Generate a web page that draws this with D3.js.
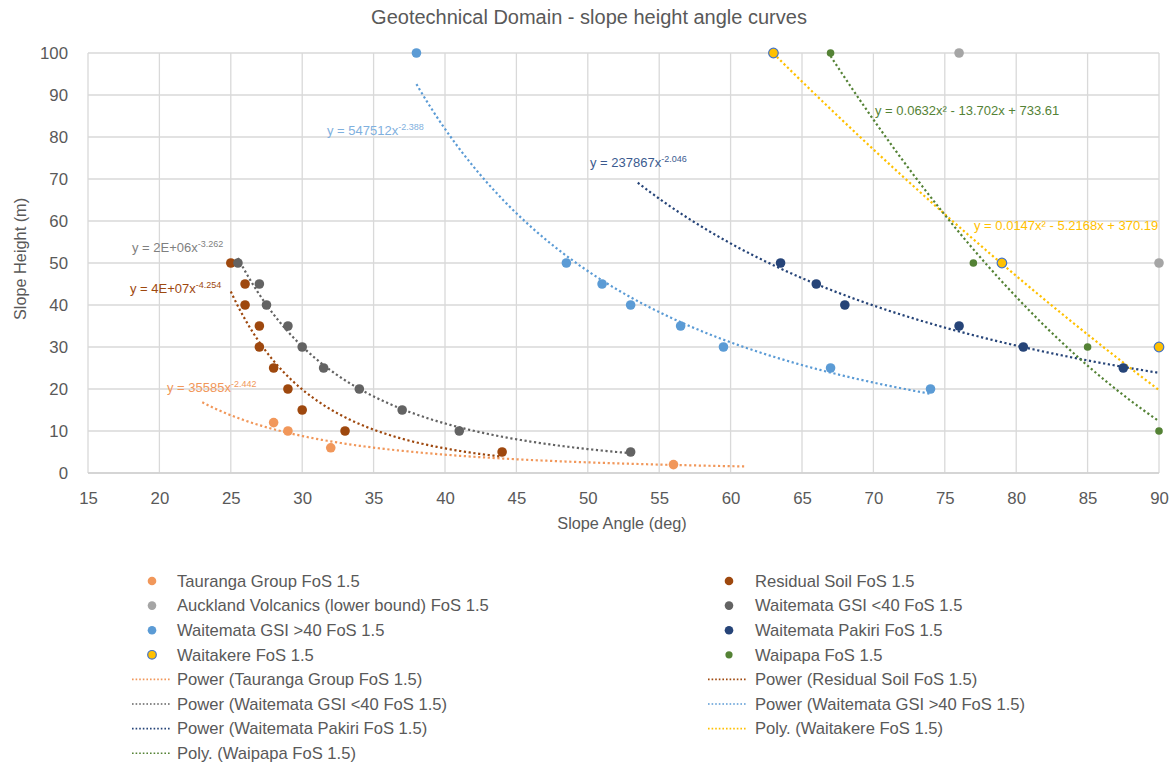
<!DOCTYPE html>
<html>
<head>
<meta charset="utf-8">
<script src="https://cdn.jsdelivr.net/npm/d3@7"></script>
<style>
  html, body { margin: 0; padding: 0; background: #fff; }
  svg text { font-family: "Liberation Sans", Arial, sans-serif; fill: #595959; }
</style>
</head>
<body>
<svg id="chart" width="1174" height="762"></svg>
<script>
// ---------------- DATA ----------------
const chartTitle = "Geotechnical Domain - slope height angle curves";
const xAxisTitle = "Slope Angle (deg)";
const yAxisTitle = "Slope Height (m)";
const xTicks = [15, 20, 25, 30, 35, 40, 45, 50, 55, 60, 65, 70, 75, 80, 85, 90];
const yTicks = [0, 10, 20, 30, 40, 50, 60, 70, 80, 90, 100];

const seriesNames = [
  "Tauranga Group FoS 1.5",
  "Residual Soil FoS 1.5",
  "Auckland Volcanics (lower bound) FoS 1.5",
  "Waitemata GSI <40 FoS 1.5",
  "Waitemata GSI >40 FoS 1.5",
  "Waitemata Pakiri FoS 1.5",
  "Waitakere FoS 1.5",
  "Waipapa FoS 1.5"
];

const taurangaX = [28, 29, 32, 56];
const taurangaY = [12, 10, 6, 2];
const residualX = [25, 26, 26, 27, 27, 28, 29, 30, 33, 44];
const residualY = [50, 45, 40, 35, 30, 25, 20, 15, 10, 5];
const volcanicsX = [76, 90];
const volcanicsY = [100, 50];
const gsiLowX = [25.5, 27, 27.5, 29, 30, 31.5, 34, 37, 41, 53];
const gsiLowY = [50, 45, 40, 35, 30, 25, 20, 15, 10, 5];
const gsiHighX = [38, 48.5, 51, 53, 56.5, 59.5, 67, 74];
const gsiHighY = [100, 50, 45, 40, 35, 30, 25, 20];
const pakiriX = [63.5, 66, 68, 76, 80.5, 87.5];
const pakiriY = [50, 45, 40, 35, 30, 25];
const waitakereX = [63, 79, 90];
const waitakereY = [100, 50, 30];
const waipapaX = [67, 77, 85, 90];
const waipapaY = [100, 50, 30, 10];

// trendlines: type, x-range drawn, label text (base, superscript)
const trendTypes = ["Power", "Power", null, "Power", "Power", "Power", "Poly.", "Poly."];
const trendRanges = [[23, 61], [25, 44], null, [25.5, 53], [38, 74], [53.5, 90], [63, 90], [67, 90]];
// polynomial coefficients as printed on the chart [c0, c1, c2]
const waitakerePoly = [370.19, -5.2168, 0.0147];
const waipapaPoly = [733.61, -13.702, 0.0632];
const trendLabelBase = ["y = 35585x", "y = 4E+07x", null, "y = 2E+06x", "y = 547512x", "y = 237867x",
                        "y = 0.0147x² - 5.2168x + 370.19", "y = 0.0632x² - 13.702x + 733.61"];
const trendLabelSup = ["-2.442", "-4.254", null, "-3.262", "-2.388", "-2.046", "", ""];

// ---------------- STYLE ----------------
const styles = [
  { fill: "#F1975A", stroke: null, r: 4.8, line: "#F1975A", label: "#F1975A", lx: 167, ly: 392 },
  { fill: "#9E480E", stroke: null, r: 4.8, line: "#9E480E", label: "#9E480E", lx: 130, ly: 293 },
  { fill: "#A5A5A5", stroke: null, r: 4.8, line: null, label: null },
  { fill: "#636363", stroke: null, r: 4.8, line: "#636363", label: "#7F7F7F", lx: 132, ly: 252 },
  { fill: "#5B9BD5", stroke: null, r: 4.8, line: "#5B9BD5", label: "#7FB0DE", lx: 327, ly: 135 },
  { fill: "#264478", stroke: null, r: 4.8, line: "#264478", label: "#3B5A8F", lx: 590, ly: 167 },
  { fill: "#FFC000", stroke: "#4472C4", r: 4.8, line: "#FFC000", label: "#FFC000", lx: 974, ly: 230 },
  { fill: "#548235", stroke: null, r: 3.8, line: "#548235", label: "#548235", lx: 875, ly: 115 }
];

const xs = [taurangaX, residualX, volcanicsX, gsiLowX, gsiHighX, pakiriX, waitakereX, waipapaX];
const ys = [taurangaY, residualY, volcanicsY, gsiLowY, gsiHighY, pakiriY, waitakereY, waipapaY];
const polys = [null, null, null, null, null, null, waitakerePoly, waipapaPoly];

// ---------------- FITS ----------------
function powerFit(X, Y) {
  const lx = X.map(Math.log), ly = Y.map(Math.log);
  const mx = d3.mean(lx), my = d3.mean(ly);
  let sxy = 0, sxx = 0;
  lx.forEach((v, i) => { sxy += (v - mx) * (ly[i] - my); sxx += (v - mx) * (v - mx); });
  const b = sxy / sxx, a = Math.exp(my - b * mx);
  return x => a * Math.pow(x, b);
}
function polyFn(c) { return x => c[0] + c[1] * x + c[2] * x * x; }

// ---------------- CHART ----------------
const svg = d3.select("#chart");
const plot = { left: 88, right: 1159, top: 53, bottom: 473 };
const x = d3.scaleLinear().domain([15, 90]).range([plot.left, plot.right]);
const y = d3.scaleLinear().domain([0, 100]).range([plot.bottom, plot.top]);

// gridlines
svg.append("g").selectAll("line").data(yTicks).join("line")
  .attr("x1", plot.left).attr("x2", plot.right)
  .attr("y1", d => y(d)).attr("y2", d => y(d))
  .attr("stroke", "#D9D9D9").attr("stroke-width", 1.3);
svg.append("g").selectAll("line").data(xTicks).join("line")
  .attr("y1", plot.top).attr("y2", plot.bottom)
  .attr("x1", d => x(d)).attr("x2", d => x(d))
  .attr("stroke", "#D9D9D9").attr("stroke-width", 1.3);

// axes
const xAxis = svg.append("g").attr("transform", `translate(0,${plot.bottom})`)
  .call(d3.axisBottom(x).tickValues(xTicks).tickSize(0).tickPadding(19).tickFormat(d3.format("d")));
const yAxis = svg.append("g").attr("transform", `translate(${plot.left},0)`)
  .call(d3.axisLeft(y).tickValues(yTicks).tickSize(0).tickPadding(20).tickFormat(d3.format("d")));
[xAxis, yAxis].forEach(g => {
  g.select(".domain").remove();
  g.selectAll("text").attr("font-family", "Liberation Sans, Arial, sans-serif")
    .attr("font-size", 16.8).attr("fill", "#595959");
});
svg.append("line").attr("x1", plot.left).attr("x2", plot.right)
  .attr("y1", plot.bottom).attr("y2", plot.bottom).attr("stroke", "#D0D0D0").attr("stroke-width", 1.5);

// titles
svg.append("text").attr("x", 589).attr("y", 24).attr("text-anchor", "middle")
  .attr("font-size", 20).text(chartTitle);
svg.append("text").attr("x", 622).attr("y", 529).attr("text-anchor", "middle")
  .attr("font-size", 16.3).text(xAxisTitle);
svg.append("text").attr("transform", "translate(26,259) rotate(-90)").attr("text-anchor", "middle")
  .attr("font-size", 16.3).text(yAxisTitle);

// trendlines
const dash = "2.2 2.6";
const trendG = svg.append("g");
const lineGen = d3.line().x(d => x(d[0])).y(d => y(d[1]));
seriesNames.forEach((name, i) => {
  if (!trendTypes[i]) return;
  const f = polys[i] ? polyFn(polys[i]) : powerFit(xs[i], ys[i]);
  const [a, b] = trendRanges[i];
  const pts = d3.range(0, 201).map(k => { const xv = a + (b - a) * k / 200; return [xv, f(xv)]; });
  trendG.append("path").attr("d", lineGen(pts)).attr("fill", "none")
    .attr("stroke", styles[i].line).attr("stroke-width", 2.2).attr("stroke-dasharray", dash);
});

// points
seriesNames.forEach((name, i) => {
  const st = styles[i];
  const data = xs[i].map((v, k) => [v, ys[i][k]]);
  svg.append("g").selectAll("circle").data(data).join("circle")
    .attr("cx", d => x(d[0])).attr("cy", d => y(d[1])).attr("r", st.r)
    .attr("fill", st.fill)
    .attr("stroke", st.stroke || "none").attr("stroke-width", st.stroke ? 1.2 : 0);
});

// trend labels
seriesNames.forEach((name, i) => {
  if (!trendLabelBase[i]) return;
  const st = styles[i];
  const t = svg.append("text").attr("x", st.lx).attr("y", st.ly)
    .attr("font-size", 13).style("fill", st.label);
  t.append("tspan").text(trendLabelBase[i]);
  if (trendLabelSup[i]) {
    t.append("tspan").attr("dy", -5).attr("font-size", 9).text(trendLabelSup[i]);
  }
});

// legend
const legendEntries = [];
seriesNames.forEach((n, i) => legendEntries.push({ kind: "marker", i, text: n }));
seriesNames.forEach((n, i) => { if (trendTypes[i]) legendEntries.push({ kind: "line", i, text: `${trendTypes[i]} (${n})` }); });
const colX = [{ marker: 152, l1: 132, l2: 170, text: 177 }, { marker: 729, l1: 708, l2: 746, text: 755 }];
const rowY0 = 581, rowH = 24.6;
const lg = svg.append("g");
legendEntries.forEach((e, k) => {
  const c = colX[k % 2], yy = rowY0 + Math.floor(k / 2) * rowH;
  const st = styles[e.i];
  if (e.kind === "marker") {
    lg.append("circle").attr("cx", c.marker).attr("cy", yy).attr("r", st.r === 3.8 ? 3.6 : 4.3)
      .attr("fill", st.fill).attr("stroke", st.stroke || "none").attr("stroke-width", st.stroke ? 1.2 : 0);
  } else {
    lg.append("line").attr("x1", c.l1).attr("x2", c.l2).attr("y1", yy).attr("y2", yy)
      .attr("stroke", st.line).attr("stroke-width", 1.6).attr("stroke-dasharray", "1.6 2");
  }
  lg.append("text").attr("x", c.text).attr("y", yy).attr("dy", "0.35em")
    .attr("font-size", 16.6).text(e.text);
});
</script>
</body>
</html>
